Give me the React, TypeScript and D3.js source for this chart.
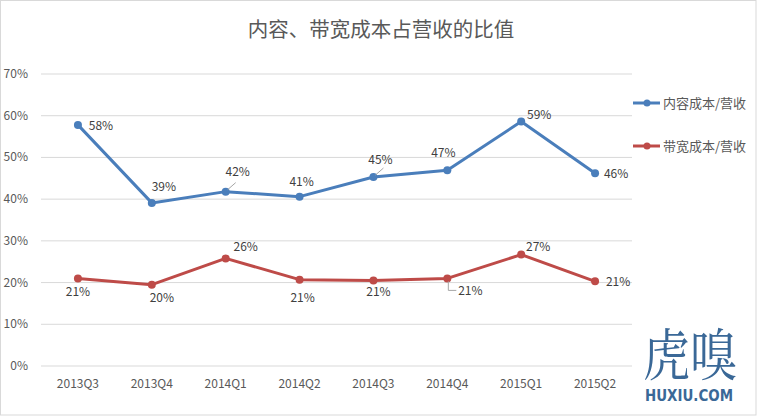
import React from "react";
import * as d3 from "d3";

const categories = ["2013Q3", "2013Q4", "2014Q1", "2014Q2", "2014Q3", "2014Q4", "2015Q1", "2015Q2"];
const contentCost = [57.8, 39.1, 41.8, 40.6, 45.3, 46.9, 58.6, 46.2];
const bandwidthCost = [21.0, 19.5, 25.8, 20.7, 20.5, 21.0, 26.7, 20.3];
const contentLabels = ["58%", "39%", "42%", "41%", "45%", "47%", "59%", "46%"];
const bandwidthLabels = ["21%", "20%", "26%", "21%", "21%", "21%", "27%", "21%"];
const yTicks = [0, 10, 20, 30, 40, 50, 60, 70];
const seriesNames = ["内容成本/营收", "带宽成本/营收"];
const title = "内容、带宽成本占营收的比值";

// label offsets (layout), dx/dy from the point
const contentOff = [[23, 1], [12, -16], [12, -20], [2, -15], [7, -17], [-4, -17], [18, -7], [21, 1]];
const bandwidthOff = [[0, 14], [10, 13], [20, -11], [3, 18], [5, 12], [23, 13], [17, -8], [23, 1]];
const contentLeader = [false, false, true, false, true, false, false, false];
const bandwidthLeader = [false, false, false, false, false, true, false, false];

const W = 757, H = 416;
const left = 41, right = 632, top = 74, bottom = 366;
const colors = ["#4a7ebb", "#be4b48"];

export default function App() {
  const x = d3.scaleBand().domain(categories).range([left, right]);
  const y = d3.scaleLinear().domain([0, 70]).range([bottom, top]);
  const cx = (c: string) => (x(c) as number) + x.bandwidth() / 2;
  const line = d3.line<number>().x((_, i) => cx(categories[i])).y((d) => y(d));
  const series = [
    { data: contentCost, labels: contentLabels, off: contentOff, leader: contentLeader },
    { data: bandwidthCost, labels: bandwidthLabels, off: bandwidthOff, leader: bandwidthLeader },
  ];
  const font = "'Microsoft YaHei', 'Noto Sans CJK SC', sans-serif";
  return (
    <svg width={W} height={H} style={{ position: "absolute", left: 0, top: 0 }} fontFamily={font}>
      <rect x={0.5} y={0.5} width={W - 1.5} height={H - 1.5} fill="#fff" stroke="#d9d9d9" />
      <text x={381} y={37} textAnchor="middle" fontSize={20.5} fill="#595959">{title}</text>
      {yTicks.map((t) => (
        <g key={t}>
          <line x1={left} x2={right} y1={y(t)} y2={y(t)} stroke="#d9d9d9" strokeWidth={1} />
          <text x={28} y={y(t) + 4} textAnchor="end" fontSize={12} fill="#595959">{t}%</text>
        </g>
      ))}
      {categories.map((c) => (
        <text key={c} x={cx(c)} y={388} textAnchor="middle" fontSize={12} fill="#595959">{c}</text>
      ))}
      {series.map((s, si) => (
        <g key={si}>
          <path d={line(s.data) as string} fill="none" stroke={colors[si]} strokeWidth={3} strokeLinejoin="round" />
          {s.data.map((v, i) => (
            <circle key={i} cx={cx(categories[i])} cy={y(v)} r={4} fill={colors[si]} />
          ))}
          {s.data.map((v, i) => {
            const px = cx(categories[i]);
            const py = y(v);
            const [dx, dy] = s.off[i];
            return (
              <g key={"l" + i}>
                {s.leader[i] && si === 0 && (
                  <line x1={px + 2} y1={py - 2} x2={px + 10} y2={py - 9} stroke="#a6a6a6" strokeWidth={1} />
                )}
                {s.leader[i] && si === 1 && (
                  <polyline points={`${px + 1},${py + 3} ${px + 1},${py + 12} ${px + 9},${py + 12}`} fill="none" stroke="#a6a6a6" strokeWidth={1} />
                )}
                <text x={px + dx} y={py + dy + 4} textAnchor="middle" fontSize={12} fill="#404040">{s.labels[i]}</text>
              </g>
            );
          })}
        </g>
      ))}
      {seriesNames.map((n, i) => {
        const ly = 103 + i * 43;
        return (
          <g key={n}>
            <line x1={633} x2={660} y1={ly} y2={ly} stroke={colors[i]} strokeWidth={3} />
            <circle cx={647} cy={ly} r={3.5} fill={colors[i]} />
            <text x={663} y={ly + 4.5} fontSize={13} fill="#595959">{n}</text>
          </g>
        );
      })}
      <g transform="translate(690,375) scale(0.84,1)">
        <text x={0} y={0} textAnchor="middle" fontSize={56} fill="#3a6897" fontFamily="'Noto Serif CJK SC', 'Noto Sans CJK SC', serif">虎嗅</text>
      </g>
      <text x={645} y={401} textLength={88} lengthAdjust="spacingAndGlyphs" fontSize={15.5} fontWeight="bold" fill="#3a6897" fontFamily="'DejaVu Sans Condensed', 'Liberation Sans Narrow', sans-serif">HUXIU.COM</text>
    </svg>
  );
}
